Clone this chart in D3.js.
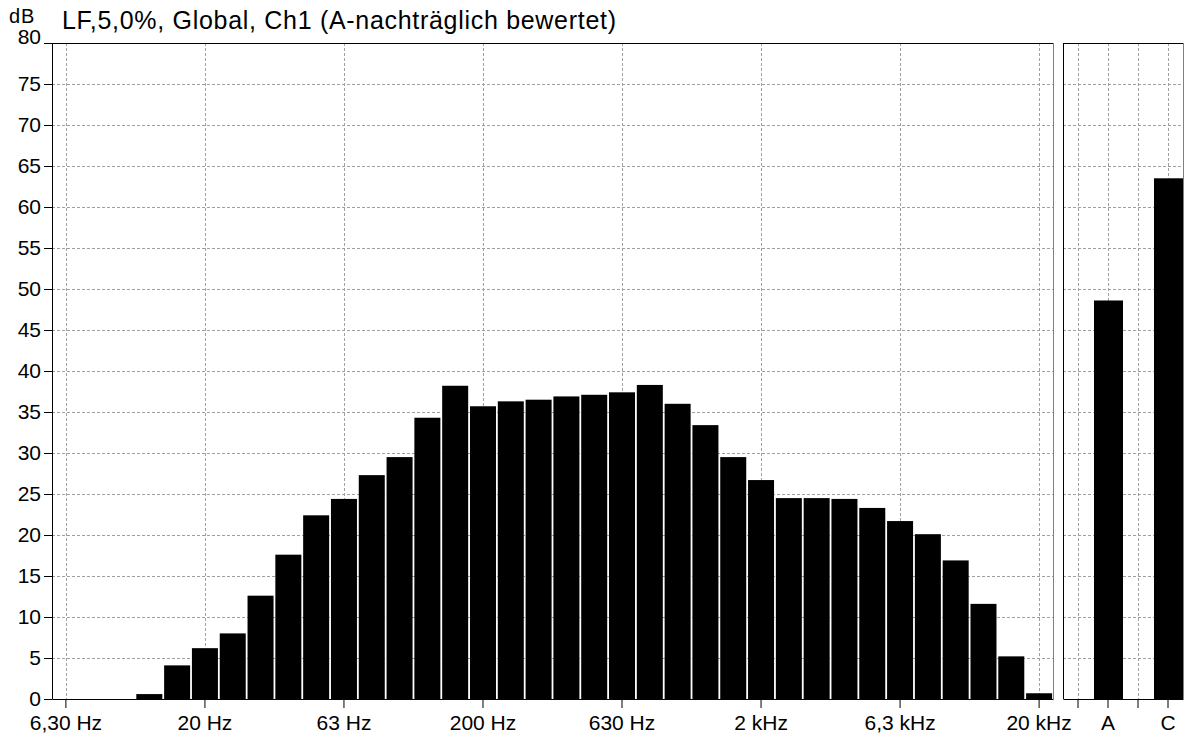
<!DOCTYPE html>
<html>
<head>
<meta charset="utf-8">
<script src="https://cdn.jsdelivr.net/npm/d3@7"></script>
<style>
body { margin: 0; background: #fff; }
svg text { font-family: "Liberation Sans", Arial, sans-serif; fill: #000; }
</style>
</head>
<body>
<svg id="mysvg" width="1193" height="740"></svg>
<script>
// third-octave bands, 6.3 Hz .. 20 kHz
const bands = ["6.3","8","10","12.5","16","20","25","31.5","40","50","63","80","100","125","160",
    "200","250","315","400","500","630","800","1000","1250","1600","2000","2500","3150","4000",
    "5000","6300","8000","10000","12500","16000","20000"];
const levels = [0,0,0,0.6,4.1,6.2,8.0,12.6,17.6,22.4,24.4,27.3,29.5,34.3,38.2,
    35.7,36.3,36.5,36.9,37.1,37.4,38.3,36.0,33.4,29.5,26.7,24.5,24.5,24.4,
    23.3,21.7,20.1,16.9,11.6,5.2,0.7];
const tickBands = ["6.3","20","63","200","630","2000","6300","20000"];
const tickLabels = ["6,30 Hz","20 Hz","63 Hz","200 Hz","630 Hz","2 kHz","6,3 kHz","20 kHz"];

// summary levels (A / C weighted)
const sumSlots = ["s1","A","s2","C"];
const sumLabels = ["","A","","C"];
const sumValues = [0,48.6,0,63.5];

const yTicks = d3.range(0, 81, 5);
const titleText = "LF,5,0%, Global, Ch1 (A-nachträglich bewertet)";
const unitText = "dB";

function drawChart(){
    const svg = d3.select("#mysvg");
    const font = "Liberation Sans, Arial, sans-serif";
    const top = 43, bottom = 699;
    const left = 52, right = 1053;
    const sLeft = 1063, sRight = 1183;

    const y = d3.scaleLinear().domain([0, 80]).range([bottom, top]);

    const x = d3.scaleBand()
        .domain(bands)
        .range([left, right])
        .paddingInner(0.065)
        .paddingOuter(0.0325);

    const xs = d3.scaleBand()
        .domain(sumSlots)
        .range([sLeft, sRight]);

    // grid
    const grid = svg.append("g")
        .attr("stroke", "#a0a0a0")
        .attr("stroke-dasharray", "3,2")
        .attr("shape-rendering", "crispEdges");

    const hTicks = yTicks.filter(d => d > 0 && d < 80);
    [[left, right], [sLeft, sRight]].forEach(([a, b]) => {
        grid.append("g").selectAll("line")
            .data(hTicks)
            .join("line")
            .attr("x1", a).attr("x2", b)
            .attr("y1", d => Math.round(y(d)) + 0.5)
            .attr("y2", d => Math.round(y(d)) + 0.5);
    });

    grid.append("g").selectAll("line")
        .data(tickBands)
        .join("line")
        .attr("x1", d => Math.round(x(d) + x.bandwidth() / 2) + 0.5)
        .attr("x2", d => Math.round(x(d) + x.bandwidth() / 2) + 0.5)
        .attr("y1", top).attr("y2", bottom);

    grid.append("g").selectAll("line")
        .data(sumSlots)
        .join("line")
        .attr("x1", d => Math.round(xs(d) + xs.bandwidth() / 2) + 0.5)
        .attr("x2", d => Math.round(xs(d) + xs.bandwidth() / 2) + 0.5)
        .attr("y1", top).attr("y2", bottom);

    // band bars
    svg.append("g")
        .attr("fill", "#000")
        .selectAll("rect")
        .data(bands.map((b, i) => ({band: b, value: levels[i]})))
        .join("rect")
        .attr("x", d => x(d.band))
        .attr("y", d => y(d.value))
        .attr("width", x.bandwidth())
        .attr("height", d => y(0) - y(d.value));

    // A / C bars
    svg.append("g")
        .attr("fill", "#000")
        .selectAll("rect")
        .data(sumSlots.map((s, i) => ({slot: s, value: sumValues[i]})))
        .join("rect")
        .attr("x", d => xs(d.slot) + 1)
        .attr("y", d => y(d.value))
        .attr("width", xs.bandwidth() - 1)
        .attr("height", d => y(0) - y(d.value));

    // frames
    const frame = svg.append("g").attr("shape-rendering", "crispEdges");
    frame.append("line").attr("x1", left).attr("x2", right)
        .attr("y1", top + 0.5).attr("y2", top + 0.5).attr("stroke", "#000");
    frame.append("line").attr("x1", right + 0.5).attr("x2", right + 0.5)
        .attr("y1", top).attr("y2", bottom).attr("stroke", "#808080").attr("stroke-width", 1.5);
    frame.append("line").attr("x1", sLeft).attr("x2", sRight)
        .attr("y1", top + 0.5).attr("y2", top + 0.5).attr("stroke", "#000");
    frame.append("line").attr("x1", sLeft + 0.5).attr("x2", sLeft + 0.5)
        .attr("y1", top).attr("y2", bottom).attr("stroke", "#000");
    frame.append("line").attr("x1", sRight + 0.5).attr("x2", sRight + 0.5)
        .attr("y1", top).attr("y2", bottom).attr("stroke", "#808080").attr("stroke-width", 1.5);

    // axes
    svg.append("g")
        .attr("transform", `translate(${left},0)`)
        .call(d3.axisLeft(y).tickValues(yTicks).tickSize(8).tickPadding(3).tickSizeOuter(0))
        .attr("font-size", 21)
        .attr("font-family", font)
        .call(g => g.selectAll(".tick").filter(d => d === 80).select("text").attr("dy", "0"));

    svg.append("g")
        .attr("transform", `translate(0,${bottom})`)
        .call(d3.axisBottom(x)
            .tickValues(tickBands)
            .tickFormat(d => tickLabels[tickBands.indexOf(d)])
            .tickSize(9).tickPadding(7).tickSizeOuter(0))
        .attr("font-size", 21)
        .attr("font-family", font);

    svg.append("g")
        .attr("transform", `translate(0,${bottom})`)
        .call(d3.axisBottom(xs)
            .tickFormat(d => sumLabels[sumSlots.indexOf(d)])
            .tickSize(9).tickPadding(7).tickSizeOuter(0))
        .attr("font-size", 21)
        .attr("font-family", font);

    // labels
    svg.append("text")
        .attr("x", 9).attr("y", 23)
        .attr("font-size", 20)
        .attr("letter-spacing", 1)
        .text(unitText);

    svg.append("text")
        .attr("x", 62).attr("y", 29)
        .attr("font-size", 25)
        .attr("letter-spacing", 0.7)
        .text(titleText);
}

drawChart();
</script>
</body>
</html>
